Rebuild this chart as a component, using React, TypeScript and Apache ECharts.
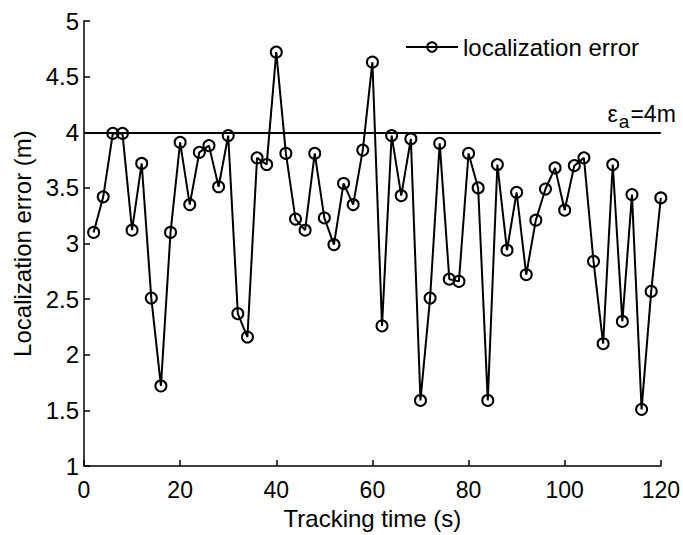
import React, { useEffect, useRef } from "react";
import * as echarts from "echarts";

const times = [
  2, 4, 6, 8, 10, 12, 14, 16, 18, 20,
  22, 24, 26, 28, 30, 32, 34, 36, 38, 40,
  42, 44, 46, 48, 50, 52, 54, 56, 58, 60,
  62, 64, 66, 68, 70, 72, 74, 76, 78, 80,
  82, 84, 86, 88, 90, 92, 94, 96, 98, 100,
  102, 104, 106, 108, 110, 112, 114, 116, 118, 120,
];

const errors = [
  3.10, 3.42, 3.99, 3.99, 3.12, 3.72, 2.51, 1.72, 3.10, 3.91,
  3.35, 3.82, 3.88, 3.51, 3.97, 2.37, 2.16, 3.77, 3.71, 4.72,
  3.81, 3.22, 3.12, 3.81, 3.23, 2.99, 3.54, 3.35, 3.84, 4.63,
  2.26, 3.97, 3.43, 3.94, 1.59, 2.51, 3.90, 2.68, 2.66, 3.81,
  3.50, 1.59, 3.71, 2.94, 3.46, 2.72, 3.21, 3.49, 3.68, 3.30,
  3.70, 3.77, 2.84, 2.10, 3.71, 2.30, 3.44, 1.51, 2.57, 3.41,
];

const threshold = 4;
const xMax = 120;
const seriesName = "localization error";
const xTitle = "Tracking time (s)";
const yTitle = "Localization error (m)";

const FONT = "'Liberation Sans', Arial, Helvetica, sans-serif";

export default function App() {
  const ref = useRef<HTMLDivElement>(null);
  useEffect(() => {
    if (!ref.current) return;
    const chart = echarts.init(ref.current, undefined, { renderer: "svg" });
    const data = times.map((t, i) => [t, errors[i]]);
    chart.setOption({
      animation: false,
      backgroundColor: "#fff",
      textStyle: { fontFamily: FONT, color: "#000" },
      grid: { left: 84, right: 21, top: 21, bottom: 60, containLabel: false },
      legend: {
        data: [seriesName],
        left: 405,
        top: 35,
        padding: 0,
        itemWidth: 52,
        itemHeight: 12,
        itemGap: 8,
        textStyle: { fontSize: 24, fontFamily: FONT, color: "#000" },
      },
      xAxis: {
        type: "value",
        min: 0,
        max: xMax,
        interval: 20,
        name: xTitle,
        nameLocation: "middle",
        nameGap: 36,
        nameTextStyle: { fontSize: 24, fontFamily: FONT, color: "#000" },
        axisLine: { show: true, onZero: false, lineStyle: { color: "#000", width: 1.5 } },
        axisTick: { show: true, inside: true, length: 6, lineStyle: { color: "#000", width: 1.5 } },
        axisLabel: { fontSize: 23, fontFamily: FONT, color: "#000", margin: 12 },
        splitLine: { show: false },
      },
      yAxis: {
        type: "value",
        min: 1,
        max: 5,
        interval: 0.5,
        name: yTitle,
        nameLocation: "middle",
        nameGap: 48,
        nameTextStyle: { fontSize: 24, fontFamily: FONT, color: "#000" },
        axisLine: { show: true, onZero: false, lineStyle: { color: "#000", width: 1.5 } },
        axisTick: { show: true, inside: true, length: 6, lineStyle: { color: "#000", width: 1.5 } },
        axisLabel: { fontSize: 24, fontFamily: FONT, color: "#000", margin: 5 },
        splitLine: { show: false },
      },
      series: [
        {
          name: seriesName,
          type: "line",
          data,
          symbol: "circle",
          symbolSize: 11,
          showAllSymbol: true,
          lineStyle: { color: "#000", width: 2 },
          itemStyle: { color: "rgba(255,255,255,0)", borderColor: "#000", borderWidth: 2 },
          markLine: {
            silent: true,
            symbol: "none",
            lineStyle: { color: "#000", width: 2, type: "solid" },
            label: { show: false },
            data: [{ yAxis: threshold }],
          },
        },
      ],
    });
    const [px, py] = chart.convertToPixel({ gridIndex: 0 }, [xMax, threshold]) as number[];
    chart.setOption({
      graphic: [
        {
          type: "text",
          x: px + 15,
          y: py - 1,
          silent: true,
          style: {
            text: "{e|ε}{s|a}{n|=4m}",
            align: "right",
            verticalAlign: "bottom",
            rich: {
              e: { fontSize: 23, fontFamily: FONT, fill: "#000", color: "#000", verticalAlign: "top" },
              s: { fontSize: 19, fontFamily: FONT, fill: "#000", color: "#000", padding: [10, 1, 0, 1], verticalAlign: "bottom" },
              n: { fontSize: 23, fontFamily: FONT, fill: "#000", color: "#000", verticalAlign: "top" },
            },
          },
        },
      ],
    });
    return () => chart.dispose();
  }, []);
  return (
    <div
      ref={ref}
      style={{ position: "fixed", left: 0, top: 0, width: 683, height: 535 }}
    />
  );
}
